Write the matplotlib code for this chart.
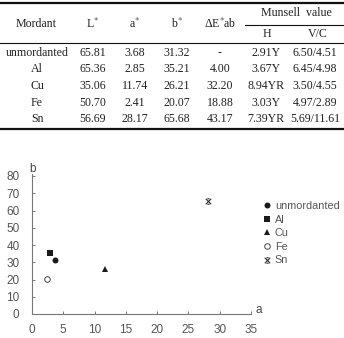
import matplotlib
matplotlib.use("Agg")
import matplotlib.pyplot as plt
from matplotlib.path import Path
from matplotlib.lines import Line2D

# ---------------- data ----------------
mordants = ["unmordanted", "Al", "Cu", "Fe", "Sn"]
L_vals = ["65.81", "65.36", "35.06", "50.70", "56.69"]
a_vals = [3.68, 2.85, 11.74, 2.41, 28.17]
b_vals = [31.32, 35.21, 26.21, 20.07, 65.68]
dE_vals = ["-", "4.00", "32.20", "18.88", "43.17"]
H_vals = ["2.91Y", "3.67Y", "8.94YR", "3.03Y", "7.39YR"]
VC_vals = ["6.50/4.51", "6.45/4.98", "3.50/4.55", "4.97/2.89", "5.69/11.61"]
x_ticks = [0, 5, 10, 15, 20, 25, 30, 35]
y_ticks = [0, 10, 20, 30, 40, 50, 60, 70, 80]

W, H = 344, 338
fig = plt.figure(figsize=(W / 100, H / 100), dpi=100)
plt.rcParams['mathtext.fontset'] = 'stix'

def P(x, y):
    return (x / W, 1 - y / H)

serif = "Liberation Serif"
tfs = 8.6
tcol = "#222222"

def t(x, y, s, **kw):
    fig.text(*P(x, y), s, ha="center", va="center", family=serif,
             fontsize=kw.pop("fs", tfs), color=tcol, **kw)

def hline(x0, x1, y, lw):
    fig.add_artist(Line2D([x0 / W, x1 / W], [1 - y / H, 1 - y / H],
                          transform=fig.transFigure, color="#111111", lw=lw))

# table rules
hline(0, 344, 3, 1.6)
hline(0, 344, 43, 0.8)
hline(245, 343, 25, 0.8)
hline(0, 344, 129, 1.6)

# header
t(36, 24, "Mordant")
t(93, 24, "L$^{*}$")
t(135, 24, "a$^{*}$")
t(177, 24, "b$^{*}$")
t(220, 24, "ΔE$^{*}$ab")
t(296, 13, "Munsell  value")
t(267, 34, "H")
t(318, 34, "V/C")

cols_x = [37, 93, 135, 177, 220, 266, 315]
row_y = [53, 69.5, 86, 102.5, 119]
for i in range(len(mordants)):
    vals = [mordants[i], L_vals[i], f"{a_vals[i]:.2f}", f"{b_vals[i]:.2f}",
            dE_vals[i], H_vals[i], VC_vals[i]]
    for cx, v in zip(cols_x, vals):
        t(cx, row_y[i], v)

# ---------------- scatter ----------------
x0p, x1p = 32, 251
y0p = 314
ppu_y = 138 / 80
ytop = 81
ax = fig.add_axes([x0p / W, (H - y0p) / H, (x1p - x0p) / W, ytop * ppu_y / H])
ax.set_xlim(0, 35)
ax.set_ylim(0, ytop)

sn_marker = Path([(-1, -1), (1, 1), (-1, 1), (1, -1), (-0.4, 1), (0.4, 1), (-0.4, -1), (0.4, -1)],
                 [Path.MOVETO, Path.LINETO, Path.MOVETO, Path.LINETO,
                  Path.MOVETO, Path.LINETO, Path.MOVETO, Path.LINETO])
markers = ["o", "s", "^", "o", sn_marker]
dark = "#1a1a1a"
for i, m in enumerate(mordants):
    if m == "Fe":
        ax.plot(a_vals[i], b_vals[i], linestyle="none", marker="o", ms=4,
                mfc="white", mec="#444444", mew=0.7, label=m)
    elif m == "Sn":
        ax.plot(a_vals[i], b_vals[i], linestyle="none", marker=sn_marker, ms=4,
                color="#333333", mew=0.8, label=m)
    else:
        ax.plot(a_vals[i], b_vals[i], linestyle="none", marker=markers[i], ms=4.3,
                color=dark, mew=0, label=m)

gray = "#777777"
for s in ["top", "right"]:
    ax.spines[s].set_visible(False)
for s in ["left", "bottom"]:
    ax.spines[s].set_color(gray)
    ax.spines[s].set_linewidth(0.8)
ax.set_xticks(x_ticks)
ax.set_yticks(y_ticks)
ax.tick_params(direction="in", length=2.5, width=0.7, color=gray,
               labelsize=8.5, labelcolor="#555555", pad=9)
for lab in ax.get_xticklabels() + ax.get_yticklabels():
    lab.set_family("Liberation Sans")
ax.tick_params(axis="x", pad=7)

fig.text(*P(259, 310), "a", ha="center", va="center", family="Liberation Sans",
         fontsize=8.5, color="#444444")
fig.text(*P(33, 169), "b", ha="center", va="center", family="Liberation Sans",
         fontsize=8.5, color="#444444")

leg = ax.legend(loc="upper left", bbox_to_anchor=(263 / W, 1 - 201 / H),
                bbox_transform=fig.transFigure, frameon=False,
                prop={"family": "Liberation Sans", "size": 7.8},
                handlelength=0.8, handletextpad=0.3, labelspacing=0.33,
                borderpad=0, borderaxespad=0)
for txt in leg.get_texts():
    txt.set_color("#555555")

fig.savefig("out.png", dpi=100)
